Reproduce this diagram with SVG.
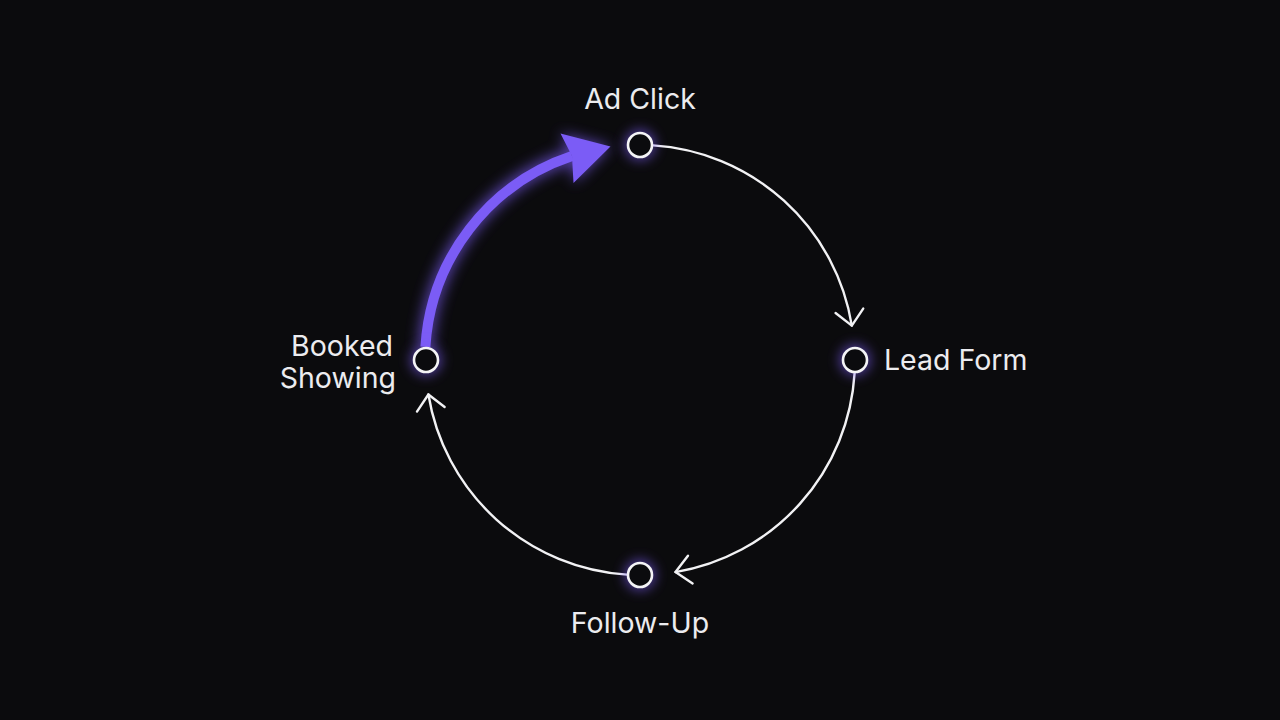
<svg xmlns="http://www.w3.org/2000/svg" width="1280" height="720" viewBox="0 0 1280 720">
  <defs>
    <filter id="glow" x="-100%" y="-100%" width="300%" height="300%">
      <feGaussianBlur stdDeviation="6"/>
    </filter>
    <filter id="glowBig" x="-50%" y="-50%" width="200%" height="200%">
      <feGaussianBlur stdDeviation="7"/>
    </filter>
    <marker id="chev" viewBox="-20 -20 40 40" markerWidth="40" markerHeight="40" markerUnits="userSpaceOnUse" orient="auto" refX="0" refY="0">
      <path d="M-15,-14 L0,0 L-15,14" fill="none" stroke="#f2f2f4" stroke-width="2.4" stroke-linecap="round" stroke-linejoin="round"/>
    </marker>
    <style>
      .arc { fill: none; stroke: #f2f2f4; stroke-width: 2.4; stroke-linecap: round; }
      .node { fill: #0b0b0e; stroke: #f4f4f6; stroke-width: 2.6; }
      .halo { fill: #7b5cf6; opacity: 0.55; }
      .label { font-family: Inter, "Noto Sans", "Liberation Sans", sans-serif; font-size: 28.5px; fill: #ececef; }
    </style>
  </defs>
  <rect width="1280" height="720" fill="#0b0b0d"/>

  <g id="connectors">
    <path class="arc" d="M653.1,145.4 A215,215 0 0 1 851.8,325.6" marker-end="url(#chev)"/>
    <path class="arc" d="M854.6,373.1 A215,215 0 0 1 675.5,572.1" marker-end="url(#chev)"/>
    <path class="arc" d="M626.9,574.6 A215,215 0 0 1 428.4,394.5" marker-end="url(#chev)"/>
    <g id="highlight">
      <g filter="url(#glowBig)" opacity="0.7">
        <path d="M425.4,346.9 A215,215 0 0 1 571,156" fill="none" stroke="#7b5cf6" stroke-width="14"/>
        <path d="M610.5,146.5 L560.5,133.5 L572,156 L573.5,183 Z" fill="#7b5cf6"/>
      </g>
      <path d="M425.4,346.9 A215,215 0 0 1 572,156" fill="none" stroke="#7b5cf6" stroke-width="10"/>
      <path d="M610.5,146.5 L560.5,133.5 L572,156 L573.5,183 Z" fill="#7b5cf6"/>
    </g>
  </g>

  <g id="node-ad-click">
    <circle class="halo" cx="640" cy="145" r="16" filter="url(#glow)"/>
    <circle class="node" cx="640" cy="145" r="12"/>
    <text class="label" x="640" y="109" text-anchor="middle">Ad Click</text>
  </g>
  <g id="node-lead-form">
    <circle class="halo" cx="855" cy="360" r="16" filter="url(#glow)"/>
    <circle class="node" cx="855" cy="360" r="12"/>
    <text class="label" x="884" y="370">Lead Form</text>
  </g>
  <g id="node-follow-up">
    <circle class="halo" cx="640" cy="575" r="16" filter="url(#glow)"/>
    <circle class="node" cx="640" cy="575" r="12"/>
    <text class="label" x="640" y="633" text-anchor="middle">Follow-Up</text>
  </g>
  <g id="node-booked-showing">
    <circle class="halo" cx="426" cy="360" r="16" filter="url(#glow)"/>
    <circle class="node" cx="426" cy="360" r="12"/>
    <text class="label" x="393" y="356" text-anchor="end">Booked</text>
    <text class="label" x="396" y="388" text-anchor="end">Showing</text>
  </g>
</svg>
